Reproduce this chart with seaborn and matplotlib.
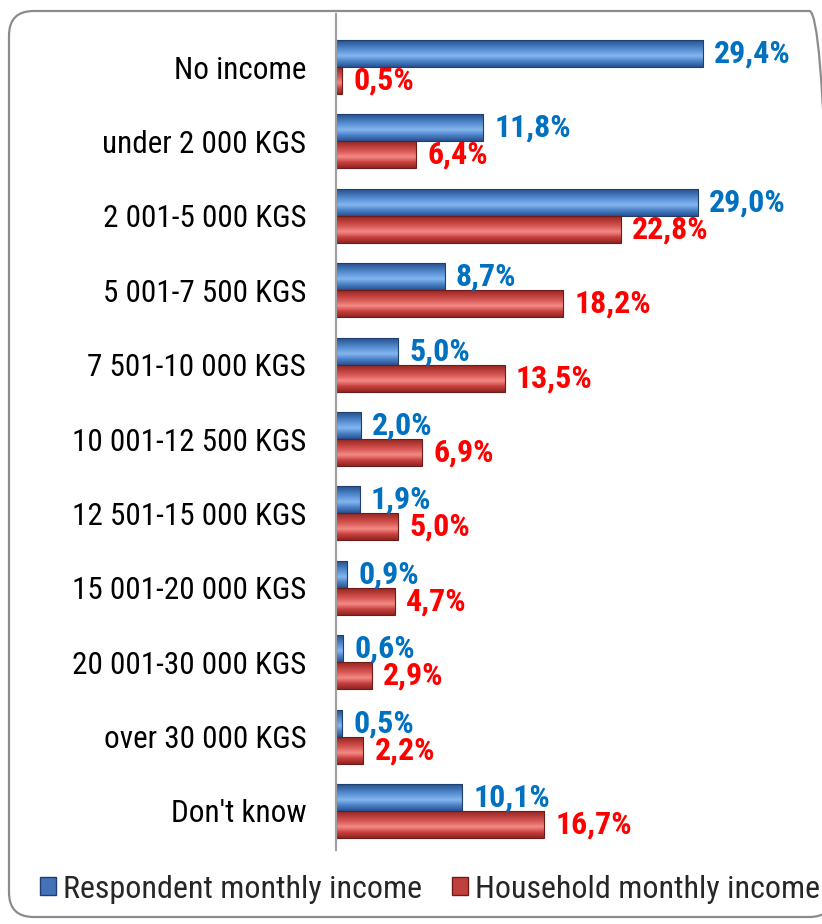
import numpy as np
import pandas as pd
import matplotlib
matplotlib.use("Agg")
import matplotlib.pyplot as plt
import seaborn as sns
from matplotlib.patches import FancyBboxPatch, Rectangle
from matplotlib.colors import LinearSegmentedColormap
from matplotlib import font_manager as fm
from matplotlib.textpath import TextPath
from matplotlib.font_manager import FontProperties

categories = ["No income", "under 2 000 KGS", "2 001-5 000 KGS", "5 001-7 500 KGS",
              "7 501-10 000 KGS", "10 001-12 500 KGS", "12 501-15 000 KGS",
              "15 001-20 000 KGS", "20 001-30 000 KGS", "over 30 000 KGS", "Don't know"]
respondent = [29.4, 11.8, 29.0, 8.7, 5.0, 2.0, 1.9, 0.9, 0.6, 0.5, 10.1]
household = [0.5, 6.4, 22.8, 18.2, 13.5, 6.9, 5.0, 4.7, 2.9, 2.2, 16.7]
series = ["Respondent monthly income", "Household monthly income"]

sns.set_theme(style="white")

# pick a narrow font if any is installed
names = {f.name for f in fm.fontManager.ttflist}
stretch = "normal"
family = None
for cand in ["Liberation Sans Narrow", "Arial Narrow", "Roboto Condensed",
             "Open Sans Condensed", "Noto Sans Condensed", "DejaVu Sans Condensed"]:
    if cand in names:
        family = cand
        break
if family is None:
    if any(f.name == "DejaVu Sans" and f.stretch == "condensed" for f in fm.fontManager.ttflist):
        family, stretch = "DejaVu Sans", "condensed"
    else:
        family = "Liberation Sans"
FONT = [family, "DejaVu Sans"]
plt.rcParams["font.family"] = FONT
plt.rcParams["font.stretch"] = stretch


def text_px(text, size, weight="normal"):
    fp = FontProperties(family=FONT, weight=weight, stretch=stretch, size=size)
    return TextPath((0, 0), text, prop=fp).get_extents().width * 100 / 72


def fit_size(text, target_px, size, weight="normal"):
    w = text_px(text, size, weight)
    return size * min(1.0, target_px / w) if w > 0 else size


cat_size = fit_size("10 001-12 500 KGS", 231, 22.5)
val_size = fit_size("29,4%", 79, 23, "bold")
leg_size = fit_size("Respondent monthly income", 355, 25)

df = pd.DataFrame({
    "category": categories * 2,
    "value": respondent + household,
    "series": [series[0]] * len(categories) + [series[1]] * len(categories),
})

W, H = 822, 924
fig = plt.figure(figsize=(W / 100, H / 100), dpi=100)

frame = FancyBboxPatch((9 / W, 7 / H), (834 - 9) / W, (918 - 12) / H,
                       boxstyle="round,pad=0,rounding_size=0.03",
                       transform=fig.transFigure, fill=False,
                       edgecolor="#8c8c8c", linewidth=1.6, mutation_aspect=W / H)
fig.patches.append(frame)

ax_l, ax_r, ax_t, ax_b = 336, 800, 14, 850
ax = fig.add_axes([ax_l / W, 1 - ax_b / H, (ax_r - ax_l) / W, (ax_b - ax_t) / H])

blue_base = "#4472B8"
red_base = "#C0403D"
sns.barplot(data=df, y="category", x="value", hue="series", orient="h",
            palette=[blue_base, red_base], width=0.726, gap=0, dodge=True,
            ax=ax, legend=False, saturation=1)

ax.set_xlim(0, 29.4 / (703 - 336) * (ax_r - ax_l))
ax.set_ylim(10 + 39 / 74.4, -53 / 74.4)

cmap_b = LinearSegmentedColormap.from_list("b", ["#2A5290", "#4A80C8", "#84B6EE", "#5C94D8", "#3C6FB0", "#254B85"])
cmap_r = LinearSegmentedColormap.from_list("r", ["#8E2624", "#C8403C", "#F48A86", "#D85A56", "#B83A36", "#8A2422"])

bars = [p for p in ax.patches if isinstance(p, Rectangle)]
for p in bars:
    fc = p.get_facecolor()
    is_blue = fc[2] > fc[0]
    cm = cmap_b if is_blue else cmap_r
    edge = "#1F3F6E" if is_blue else "#6E1C1A"
    x0, y0 = p.get_x(), p.get_y()
    w, h = p.get_width(), p.get_height()
    grad = np.linspace(0, 1, 64).reshape(-1, 1)
    im = ax.imshow(grad, cmap=cm, aspect="auto", extent=(x0, x0 + w, y0 + h, y0),
                   origin="lower", zorder=p.get_zorder() + 0.1, interpolation="bilinear")
    im.set_clip_path(p)
    ax.add_patch(Rectangle((x0, y0), w, h, fill=False, edgecolor=edge,
                           linewidth=0.8, zorder=p.get_zorder() + 0.2))
    ax.annotate(f"{w:.1f}".replace(".", ",") + "%", (x0 + w, y0 + h / 2),
                xytext=(8, 0), textcoords="offset points", ha="left", va="center",
                fontsize=val_size, fontweight="bold", family=FONT, fontstretch=stretch,
                color="#0070C0" if is_blue else "#FF0000", zorder=5)

ax.set_xlabel("")
ax.set_ylabel("")
ax.set_xticks([])
ax.tick_params(axis="y", length=0, pad=21.5, labelsize=cat_size, labelcolor="black")
for lab in ax.get_yticklabels():
    lab.set_family(FONT)
    lab.set_fontstretch(stretch)
for s in ["top", "right", "bottom"]:
    ax.spines[s].set_visible(False)
ax.spines["left"].set_color("#a0a0a0")
ax.spines["left"].set_linewidth(1.6)
ax.patch.set_alpha(0)

fs_px = leg_size * 100 / 72
handles = [Rectangle((0, 0), 1, 1, facecolor=blue_base, edgecolor="#1F3F6E"),
           Rectangle((0, 0), 1, 1, facecolor=red_base, edgecolor="#6E1C1A")]
fig.legend(handles, series, loc="center left", bbox_to_anchor=(40 / W, 1 - 889 / H),
           ncol=2, frameon=False, borderpad=0, borderaxespad=0,
           prop=FontProperties(family=FONT, size=leg_size, stretch=stretch),
           handlelength=16 / fs_px, handleheight=16 / fs_px,
           handletextpad=7 / fs_px, columnspacing=30 / fs_px)

fig.savefig("out.png", dpi=100)
